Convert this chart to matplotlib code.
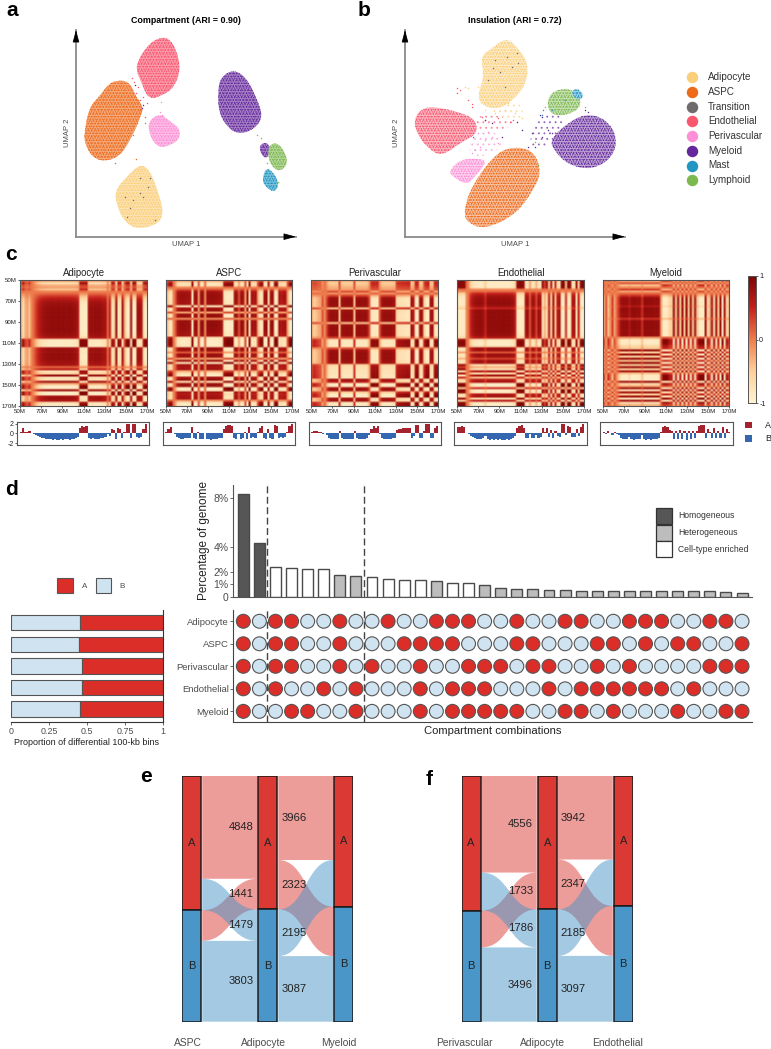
import matplotlib
matplotlib.use("Agg")
import numpy as np
import matplotlib.pyplot as plt
from matplotlib.colors import LinearSegmentedColormap, to_rgb
from matplotlib.patches import PathPatch, Rectangle
from matplotlib.path import Path

plt.rcParams['font.family'] = ['Liberation Sans', 'DejaVu Sans']
plt.rcParams['axes.unicode_minus'] = False
plt.rcParams['hatch.linewidth'] = 0.6

W, H = 771, 1049

# cell types and colours
CELL_TYPES = ['Adipocyte', 'ASPC', 'Transition', 'Endothelial', 'Perivascular', 'Myeloid', 'Mast', 'Lymphoid']
CELL_COLORS = ['#FBCF7A', '#EE6A1B', '#6F6A6B', '#F9566F', '#FD8FD6', '#65289C', '#2196C2', '#7DB84F']

# UMAP cluster outlines, (x, y) in arbitrary UMAP units
UMAP_A = [
    ('Endothelial', [(415, 180), (440, 140), (470, 115), (505, 112), (530, 150), (542, 210), (522, 262), (490, 285), (445, 300), (422, 240), (408, 210)]),
    ('ASPC', [(252, 400), (268, 320), (298, 290), (322, 255), (350, 240), (388, 245), (408, 290), (430, 320), (422, 352), (388, 425), (358, 470), (310, 485), (275, 470), (255, 430)]),
    ('Perivascular', [(442, 365), (480, 340), (502, 358), (540, 385), (538, 418), (510, 436), (478, 444), (452, 415)]),
    ('Adipocyte', [(346, 570), (380, 530), (420, 492), (448, 508), (473, 570), (492, 640), (472, 674), (410, 688), (372, 664), (348, 610)]),
    ('Myeloid', [(654, 270), (662, 232), (700, 208), (738, 232), (768, 290), (790, 350), (762, 388), (720, 402), (688, 388), (656, 340)]),
    ('Myeloid', [(776, 440), (795, 425), (812, 440), (806, 472), (788, 472)]),
    ('Lymphoid', [(803, 440), (830, 425), (858, 460), (862, 497), (835, 516), (808, 490)]),
    ('Mast', [(786, 540), (798, 502), (822, 518), (838, 555), (822, 577), (798, 562)]),
]
UMAP_B = [
    ('Adipocyte', [(286, 170), (320, 145), (365, 112), (402, 148), (430, 190), (424, 250), (392, 292), (350, 325), (298, 322), (276, 290), (298, 230)]),
    ('Endothelial', [(86, 360), (108, 326), (150, 320), (222, 336), (272, 358), (277, 402), (232, 424), (170, 470), (128, 444), (96, 402)]),
    ('ASPC', [(236, 632), (258, 563), (318, 476), (370, 440), (444, 448), (470, 515), (444, 572), (392, 644), (300, 688), (246, 668)]),
    ('Perivascular', [(190, 515), (228, 476), (292, 476), (304, 490), (267, 532), (245, 555), (207, 532)]),
    ('Myeloid', [(496, 420), (538, 376), (600, 340), (662, 356), (697, 410), (684, 472), (620, 510), (548, 494), (506, 450)]),
    ('Lymphoid', [(486, 300), (508, 270), (560, 265), (588, 298), (583, 328), (530, 350), (492, 338)]),
    ('Mast', [(556, 280), (575, 262), (598, 285), (582, 304)]),
]
# thin, loosely populated areas of panel b
UMAP_B_SPARSE = [
    ('Perivascular', [(262, 405), (340, 392), (355, 438), (300, 472), (248, 462)]),
    ('Adipocyte', [(296, 318), (395, 285), (425, 365), (345, 352)]),
    ('Myeloid', [(462, 345), (525, 340), (545, 382), (500, 425), (468, 446), (425, 442)]),
    ('Endothelial', [(270, 345), (345, 345), (395, 370), (345, 392), (275, 400)]),
]

# stray cells
STRAY_A = {
    'Endothelial': [(395, 235), (402, 245), (415, 260), (430, 290), (420, 300), (440, 310), (408, 280)],
    'ASPC': [(415, 300), (420, 330), (435, 370), (410, 370), (400, 405), (345, 490), (408, 478), (435, 350)],
    'Perivascular': [(483, 305), (480, 335), (487, 345)],
    'Transition': [(380, 650), (430, 590), (450, 535), (400, 600), (465, 660), (420, 580), (375, 590), (445, 560), (420, 535), (390, 625)],
    'Myeloid': [(430, 315), (405, 255), (425, 325)],
    'Lymphoid': [(770, 405), (783, 415), (800, 490), (835, 545)],
}
STRAY_B = {
    'Adipocyte': [(300, 330), (330, 340), (370, 310), (390, 340), (410, 355), (280, 260), (240, 260), (360, 330), (250, 265)],
    'Endothelial': [(215, 265), (225, 270), (215, 280), (260, 320), (290, 350), (340, 355), (375, 365), (385, 360), (250, 300), (262, 312), (300, 360)],
    'Perivascular': [(280, 400), (300, 420), (270, 450), (260, 460), (320, 410), (340, 430), (295, 400), (285, 440), (310, 395)],
    'Myeloid': [(440, 400), (470, 350), (465, 345), (490, 390), (500, 400), (450, 440), (430, 440), (470, 410), (600, 330), (610, 335), (300, 360), (320, 370), (350, 410), (395, 365), (410, 390)],
    'Mast': [(470, 345), (475, 330), (265, 410), (540, 300), (500, 330), (575, 275)],
    'Lymphoid': [(450, 425), (460, 495), (600, 320), (480, 320)],
    'Transition': [(330, 180), (365, 170), (395, 160), (310, 240), (345, 215), (380, 200), (325, 205), (360, 260), (400, 190)],
}

# compartment score along the chromosome, one value per 2 Mb bin from 50M
TRACK_START = 50
TRACK_BIN = 2
TRACKS = {
    'Adipocyte': [.2, 1.0, .3, .2, .4, .05, -.1, -.3, -.5, -.7, -.9, -1, -1.1, -1.2, -1.2, -1.3, -1.2, -1.3, -1.3, -1.2,
                  -1.3, -1.2, -1.2, -1.3, -1.2, -1.1, -1, -.7, 1.2, 1.5, 1.4, 1.6, -.9, -1.1, -1, -1.2, -1.1, -1.2, -1, -.9,
                  -.8, -.1, -.6, .9, .7, -1.2, 1.1, .9, -1, .3, 2, 1.9, -1, 2, 2, -.8, -1, -.7, .9, 2],
    'ASPC': [.3, .9, 1.3, .1, -.2, -.8, -1, -1.1, -1.1, -1, -1, -.9, 1.3, -.9, -1.1, .2, -1.2, -1.2, .1, -1.2,
             -1.2, -1.3, -1.2, -1.2, -1.1, -1, -.9, .9, 1.6, 1.8, 1.7, 1.5, -1, -1.1, -.2, -1.1, -1, .2, -1.1, 1.3,
             -1, -.8, -.9, .3, 1, 1.6, -.9, -1.2, .9, -1, -1.1, 1.7, 1.6, -.9, -.7, -.9, -.8, .2, 1.5, 2],
    'Perivascular': [.3, .5, .4, .3, .2, -.2, .1, -.3, -.9, -1.2, -1.2, -1.1, -1.2, .4, -1, -1.1, -1.2, -1.2, -1.1, -1.2,
                     .4, -1, -1.2, -1.2, -1.1, -1.2, -1, -.3, .9, 1.5, 1.1, 1.6, -.2, -.9, -1.1, -1.2, -1.1, -1.2, -1, -.9,
                     .6, .9, .9, 1, 1, 1.2, 1.1, -1, -.6, 1.7, 1.8, -.9, -1, .5, 2, 1.9, -.9, -.9, 1.2, 1.5],
    'Endothelial': [1.4, 1.3, 1.5, 1.3, .1, -.1, -.5, -.8, -1, -1.1, -1.2, -1.2, -.9, -.5, -1.2, -1.3, -1.2, -1.3, -1.2, -1.3,
                    -1.2, -1.3, -1.3, -1.2, -1.3, -1.1, -1, -.6, 1, 1.5, 1.7, 1, -.9, -1, -.2, -1, -.9, -.3, -1, -.8,
                    1, .3, 1, -.7, .7, -.9, .4, -.6, -.8, 2, 2, -.4, 1.6, 1.4, -.7, -.8, .9, -.6, 1.4, 2],
    'Myeloid': [.3, -.2, .4, .1, -.3, .2, -.1, -.4, -1, -1.2, -1.1, -1.2, -.7, -1.2, -1.3, -1.2, -1.1, -1.2, -.4, -1.2,
                -1.3, -1.2, -1.3, -1.2, -1.1, -1.2, -1, .2, 1.4, 1.6, 1.3, .6, .5, -1.2, .5, -1.2, .6, -1.2, .4, -1.3,
                .5, -1.2, .5, -.9, .4, 1.6, 1.7, 1.7, -1, .8, .3, -1, 1, -.9, .5, -1, 1.4, -.9, .9, .3],
}
GENOME_TICKS = [50, 70, 90, 110, 130, 150, 170]

# percentage of genome per combination
COMBO_PCT = [8.33, 4.31, 2.43, 2.35, 2.24, 2.24, 1.75, 1.7, 1.62, 1.43, 1.37, 1.32, 1.3, 1.13, 1.13, .95, .73, .6, .6, .55,
             .52, .5, .5, .48, .46, .46, .46, .46, .46, .44, .4, .33]
COMBO_TYPE = 'HHCCCCTTCCCCTCC' + 'T' * 17
COMBO_ROWS = ['Adipocyte', 'ASPC', 'Perivascular', 'Endothelial', 'Myeloid']
COMBO_STATES = [
    'ABAABBABBABBAAABBABBAABBAAABBAAB',
    'ABAABBABBBAAAABBBAABBBAABABAABBA',
    'ABAABBABABBABBAAABAABBABABBBBAAA',
    'ABABBABABBBABAAABBBABAAAAAABABBB',
    'ABBAABBABBBABAAAAABBAABABBBABBAA',
]
PROP_B = [.454, .45, .467, .469, .456]

# sankey values around the Adipocyte column
SANKEY_E = {'names': ['ASPC', 'Adipocyte', 'Myeloid'], 'left': [4848, 1441, 1479, 3803], 'right': [3966, 2323, 2195, 3087]}
SANKEY_F = {'names': ['Perivascular', 'Adipocyte', 'Endothelial'], 'left': [4556, 1733, 1786, 3496], 'right': [3942, 2347, 2185, 3097]}

RED = '#DC2E29'
LIGHT_BLUE = '#D0E3F0'
SANKEY_RED = '#DB3A34'
SANKEY_BLUE = '#4A96C8'
GREY_TEXT = '#4D4D4D'

fig = plt.figure(figsize=(W / 100, H / 100), dpi=100)


def ax_px(x0, y0, x1, y1):
    return fig.add_axes([x0 / W, 1 - y1 / H, (x1 - x0) / W, (y1 - y0) / H])


page = ax_px(0, 0, W, H)
page.set_xlim(0, W)
page.set_ylim(H, 0)
page.axis('off')
page.set_zorder(10)
page.patch.set_alpha(0)

for letter, x, y in [('a', 6, 16.5), ('b', 358, 16.5), ('c', 5, 260), ('d', 5, 495), ('e', 140, 782), ('f', 426, 785)]:
    page.text(x, y, letter, fontsize=15, fontweight='bold', color='black', va='baseline')


def tint(color, amount):
    c = np.array(to_rgb(color))
    return tuple(c * amount + (1 - amount))


def blob(pts):
    # closed smooth path with the outline points as control points
    pts = np.array(pts, dtype=float)
    start = (pts[-1] + pts[0]) / 2
    verts, codes = [start], [Path.MOVETO]
    for i, p in enumerate(pts):
        end = (p + pts[(i + 1) % len(pts)]) / 2
        verts += [p, end]
        codes += [Path.CURVE3, Path.CURVE3]
    return Path(verts, codes)


def draw_umap(box, xlim, clusters, sparse, strays, amount, title, title_x, label_x, label_y):
    ax = ax_px(*box)
    ax.set_xlim(*xlim)
    ax.set_ylim(710, 90)
    ax.set_xticks([])
    ax.set_yticks([])
    for s in ['top', 'right']:
        ax.spines[s].set_visible(False)
    for s in ['left', 'bottom']:
        ax.spines[s].set_color('#8A8A8A')
        ax.spines[s].set_linewidth(1.3)
    colors = dict(zip(CELL_TYPES, CELL_COLORS))
    for name, pts in sparse:
        ax.add_patch(PathPatch(blob(pts), facecolor='none', edgecolor=tint(colors[name], .7), hatch='...', lw=0))
    for name, pts in clusters:
        ax.add_patch(PathPatch(blob(pts), facecolor=tint(colors[name], amount), edgecolor=colors[name], hatch='.....', lw=0))
        ax.add_patch(PathPatch(blob(pts), facecolor='none', edgecolor=colors[name], hatch='.......', lw=0))
    for name, pts in strays.items():
        xs, ys = zip(*pts)
        ax.scatter(xs, ys, s=1.1, color=colors[name], lw=0)
    arrow = dict(arrowstyle='-|>,head_length=0.75,head_width=0.2', color='black', lw=0.6, shrinkA=0, shrinkB=0)
    ax.annotate('', xy=(1, 0), xytext=(.95, 0), xycoords='axes fraction', arrowprops=arrow)
    ax.annotate('', xy=(0, 1), xytext=(0, .95), xycoords='axes fraction', arrowprops=arrow)
    page.text(title_x, 20.3, title, fontsize=6.4, fontweight='bold', ha='center', va='center')
    page.text(label_x, 244.3, 'UMAP 1', fontsize=5.5, color=GREY_TEXT, ha='center', va='center')
    page.text(label_y, 133.3, 'UMAP 2', fontsize=5.5, color=GREY_TEXT, ha='center', va='center', rotation=90)


draw_umap((76, 30, 296, 236.7), (228, 888), UMAP_A, [], STRAY_A, .58,
          'Compartment (ARI = 0.90)', 185.7, 186, 67.3)
draw_umap((405, 30, 625, 236.7), (60, 720), UMAP_B, UMAP_B_SPARSE, STRAY_B, .42,
          'Insulation (ARI = 0.72)', 515, 515, 396.7)

# cell type legend
for i, (name, color) in enumerate(zip(CELL_TYPES, CELL_COLORS)):
    y = 77 + 14.75 * i
    page.scatter([692], [y], s=68, color=color, lw=0)
    page.text(708, y, name, fontsize=7.1, color='#333333', va='center')

# panel c
heat_cmap = LinearSegmentedColormap.from_list('compartment', [(0, '#FFF4D2'), (.25, '#FDD09A'), (.5, '#EE7B4B'), (.75, '#C5201C'), (1, '#7A0403')])
heat_x = [(20, 147), (165.7, 292), (311.3, 438), (457, 584), (603, 729.3)]
track_x = [(17.3, 149.3), (162.7, 295.3), (308.7, 440.7), (454.3, 586.7), (600.3, 732.7)]
for i, name in enumerate(COMBO_ROWS):
    track = np.array(TRACKS[name], dtype=float)
    s = np.tanh(1.25 * track)
    ax = ax_px(heat_x[i][0], 280, heat_x[i][1], 405.7)
    ax.imshow(np.outer(s, s), cmap=heat_cmap, vmin=-1, vmax=1, extent=(50, 170, 170, 50), aspect='auto', interpolation='bilinear')
    ax.set_xticks(GENOME_TICKS)
    ax.set_xticklabels([f'{t}M' for t in GENOME_TICKS])
    ax.set_yticks(GENOME_TICKS if i == 0 else [])
    ax.set_yticklabels([f'{t}M' for t in GENOME_TICKS] if i == 0 else [])
    ax.tick_params(labelsize=4.4, length=1.5, width=0.5, pad=1, colors='#222222')
    for sp in ax.spines.values():
        sp.set_color('#555555')
        sp.set_linewidth(0.8)
    page.text(sum(heat_x[i]) / 2, 272.7, name, fontsize=6.9, color='#222222', ha='center', va='center')

    tr = ax_px(track_x[i][0], 421.7, track_x[i][1], 445)
    pos = TRACK_START + TRACK_BIN * np.arange(len(track))
    tr.bar(pos, track, width=TRACK_BIN, align='edge', color=['#A5232E' if v > 0 else '#3566B0' for v in track], lw=0)
    tr.set_xlim(47.5, 172.5)
    tr.set_ylim(-2.4, 2.4)
    tr.set_xticks([])
    tr.set_yticks([-2, 0, 2] if i == 0 else [])
    tr.tick_params(labelsize=5, length=1.5, width=0.5, pad=1, colors='#222222')
    for sp in tr.spines.values():
        sp.set_color('#555555')
        sp.set_linewidth(0.8)

cbar = ax_px(748.3, 275.7, 755.7, 403.3)
cbar.imshow(np.linspace(1, -1, 256).reshape(-1, 1), cmap=heat_cmap, vmin=-1, vmax=1, extent=(0, 1, -1, 1), aspect='auto')
cbar.set_xticks([])
cbar.yaxis.tick_right()
cbar.set_yticks([-1, 0, 1])
cbar.tick_params(labelsize=5.2, length=1.5, width=0.5, pad=1, colors='#222222')
for sp in cbar.spines.values():
    sp.set_color('#555555')
    sp.set_linewidth(0.7)
page.add_patch(Rectangle((745, 421.7), 6.7, 6.7, color='#A5232E', lw=0))
page.add_patch(Rectangle((745, 435), 6.7, 6.7, color='#3566B0', lw=0))
page.text(765, 425, 'A', fontsize=6.5, va='center', color='#222222')
page.text(765, 438.3, 'B', fontsize=6.5, va='center', color='#222222')

# panel d, bars
FILL = {'H': '#565656', 'T': '#BDBDBD', 'C': 'white'}
bar_ax = ax_px(233.5, 485, 751.7, 596.7)
xs = np.arange(len(COMBO_PCT))
bar_ax.bar(xs, COMBO_PCT, width=.68, color=[FILL[t] for t in COMBO_TYPE], edgecolor='#4A4A4A', lw=1)
bar_ax.set_xlim(-.61, 31.6)
bar_ax.set_ylim(0, 9.03)
bar_ax.set_yticks([0, 1, 2, 4, 8])
bar_ax.set_yticklabels(['0', '1%', '2%', '4%', '8%'])
bar_ax.set_xticks([])
bar_ax.tick_params(labelsize=7.5, length=2, width=0.6, pad=1.5, colors=GREY_TEXT)
for s in ['top', 'right']:
    bar_ax.spines[s].set_visible(False)
for s in ['left', 'bottom']:
    bar_ax.spines[s].set_color('#555555')
for x in [1.5, 7.5]:
    bar_ax.axvline(x, color='#444444', lw=1, ls=(0, (5, 2.5)))
page.text(204.4, 540.7, 'Percentage of genome', fontsize=8.5, color='#222222', rotation=90, ha='center', va='center')

for label, fill, y0, y1 in [('Homogeneous', 'H', 508.3, 523.6), ('Heterogeneous', 'T', 525, 540.6), ('Cell-type enriched', 'C', 541.3, 556.7)]:
    page.add_patch(Rectangle((656.3, y0), 15.3, y1 - y0, facecolor=FILL[fill], edgecolor='#333333', lw=0.9))
    page.text(677.8, (y0 + y1) / 2, label, fontsize=6.2, color='#333333', va='center')

# panel d, dots
dot_ax = ax_px(233.5, 610, 751.7, 721.7)
for x in [1.5, 7.5]:
    dot_ax.axvline(x, color='#444444', lw=1, ls=(0, (5, 2.5)), zorder=1)
for r, states in enumerate(COMBO_STATES):
    dot_ax.scatter(np.arange(len(states)), [r] * len(states), s=100, zorder=2,
                   color=[RED if c == 'A' else LIGHT_BLUE for c in states], edgecolors='#555555', linewidths=0.8)
dot_ax.set_xlim(-.61, 31.6)
dot_ax.set_ylim(4.46, -.5)
dot_ax.set_yticks(range(len(COMBO_ROWS)))
dot_ax.set_yticklabels(COMBO_ROWS)
dot_ax.set_xticks([])
dot_ax.tick_params(labelsize=6.8, length=2, width=0.6, pad=1.5, colors=GREY_TEXT)
for s in ['top', 'right']:
    dot_ax.spines[s].set_visible(False)
for s in ['left', 'bottom']:
    dot_ax.spines[s].set_color('#444444')
page.text(492.5, 731, 'Compartment combinations', fontsize=8.1, color='#222222', ha='center', va='center')

# panel d, proportions
prop_ax = ax_px(11, 610, 163, 721.7)
rows = np.arange(len(PROP_B))
prop_ax.barh(rows, PROP_B, height=.71, color=LIGHT_BLUE, edgecolor='#555555', lw=0.8)
prop_ax.barh(rows, 1 - np.array(PROP_B), left=PROP_B, height=.71, color=RED, edgecolor='#555555', lw=0.8)
prop_ax.set_xlim(0, 1)
prop_ax.set_ylim(4.58, -.588)
prop_ax.set_yticks([])
prop_ax.set_xticks([0, .25, .5, .75, 1])
prop_ax.set_xticklabels(['0', '0.25', '0.5', '0.75', '1'])
prop_ax.tick_params(labelsize=6.4, length=2, width=0.6, pad=1.5, colors=GREY_TEXT)
for s in ['top', 'left']:
    prop_ax.spines[s].set_visible(False)
for s in ['right', 'bottom']:
    prop_ax.spines[s].set_color('#333333')
page.text(87, 742.7, 'Proportion of differential 100-kb bins', fontsize=6.5, color='#222222', ha='center', va='center')
page.add_patch(Rectangle((57.3, 578.3), 15.4, 15, facecolor=RED, edgecolor='#555555', lw=0.8))
page.add_patch(Rectangle((95.7, 578.3), 15.6, 15, facecolor=LIGHT_BLUE, edgecolor='#555555', lw=0.8))
page.text(84.3, 586, 'A', fontsize=5.8, color=GREY_TEXT, ha='center', va='center')
page.text(122.3, 586, 'B', fontsize=5.8, color=GREY_TEXT, ha='center', va='center')


def flow(ax, x0, x1, a0, a1, b0, b1, color):
    # band from y range a0-a1 at x0 to y range b0-b1 at x1, s-shaped edges
    mid = (x0 + x1) / 2
    verts = [(x0, a0), (mid, a0), (mid, b0), (x1, b0), (x1, b1), (mid, b1), (mid, a1), (x0, a1), (x0, a0)]
    codes = [Path.MOVETO, Path.CURVE4, Path.CURVE4, Path.CURVE4, Path.LINETO, Path.CURVE4, Path.CURVE4, Path.CURVE4, Path.CLOSEPOLY]
    ax.add_patch(PathPatch(Path(verts, codes), facecolor=color, alpha=.5, lw=0))


def draw_sankey(box, data, label_left, label_right, name_x):
    ax = ax_px(*box)
    half = .124
    gap = .014
    ax.set_xlim(-half, 2 + half)
    total = sum(data['left'])
    ax.set_ylim(total, 0)
    ax.axis('off')
    la, lr, lb, lz = data['left']
    ra, rr, rb, rz = data['right']
    splits = [la + lb, ra + rr, ra + rb]
    # left gap, coloured by the Adipocyte side
    x0, x1 = half + gap, 1 - half - gap
    flow(ax, x0, x1, 0, la, 0, la, SANKEY_RED)
    flow(ax, x0, x1, la + lb, la + lb + lr, la, la + lr, SANKEY_RED)
    flow(ax, x0, x1, la, la + lb, la + lr, la + lr + lb, SANKEY_BLUE)
    flow(ax, x0, x1, total - lz, total, total - lz, total, SANKEY_BLUE)
    # right gap
    x0, x1 = 1 + half + gap, 2 - half - gap
    flow(ax, x0, x1, 0, ra, 0, ra, SANKEY_RED)
    flow(ax, x0, x1, ra, ra + rr, ra + rb, ra + rb + rr, SANKEY_RED)
    flow(ax, x0, x1, ra + rr, ra + rr + rb, ra, ra + rb, SANKEY_BLUE)
    flow(ax, x0, x1, total - rz, total, total - rz, total, SANKEY_BLUE)
    for i, split in enumerate(splits):
        ax.add_patch(Rectangle((i - half, 0), 2 * half, split, facecolor=SANKEY_RED, edgecolor='#1A1A1A', lw=1.1))
        ax.add_patch(Rectangle((i - half, split), 2 * half, total - split, facecolor=SANKEY_BLUE, edgecolor='#1A1A1A', lw=1.1))
        ax.text(i, split / 2, 'A', fontsize=8, ha='center', va='center', color='#222222')
        ax.text(i, split + (total - split) / 2, 'B', fontsize=8, ha='center', va='center', color='#222222')
    # value labels sit beside the Adipocyte column
    left_mid = [la / 2, la + lr / 2, la + lr + lb / 2, total - lz / 2]
    right_mid = [ra / 2, ra + rr / 2, ra + rr + rb / 2, total - rz / 2]
    to_y = lambda v: 775.7 + v / total * 246
    for v, m in zip(data['left'], left_mid):
        page.text(label_left, to_y(m), str(v), fontsize=8.1, color='#222222', ha='right', va='center')
    for v, m in zip(data['right'], right_mid):
        page.text(label_right, to_y(m), str(v), fontsize=8.1, color='#222222', ha='left', va='center')
    for n, x in zip(data['names'], name_x):
        page.text(x, 1043.3, n, fontsize=7.4, color=GREY_TEXT, ha='center', va='center')


draw_sankey((182.3, 775.7, 353.3, 1021.7), SANKEY_E, 253.3, 281.3, [188.3, 263, 339.3])
draw_sankey((461.7, 775.7, 632.7, 1021.7), SANKEY_F, 533, 560.7, [464.7, 542.3, 617.3])

fig.savefig('out.png', dpi=100)
